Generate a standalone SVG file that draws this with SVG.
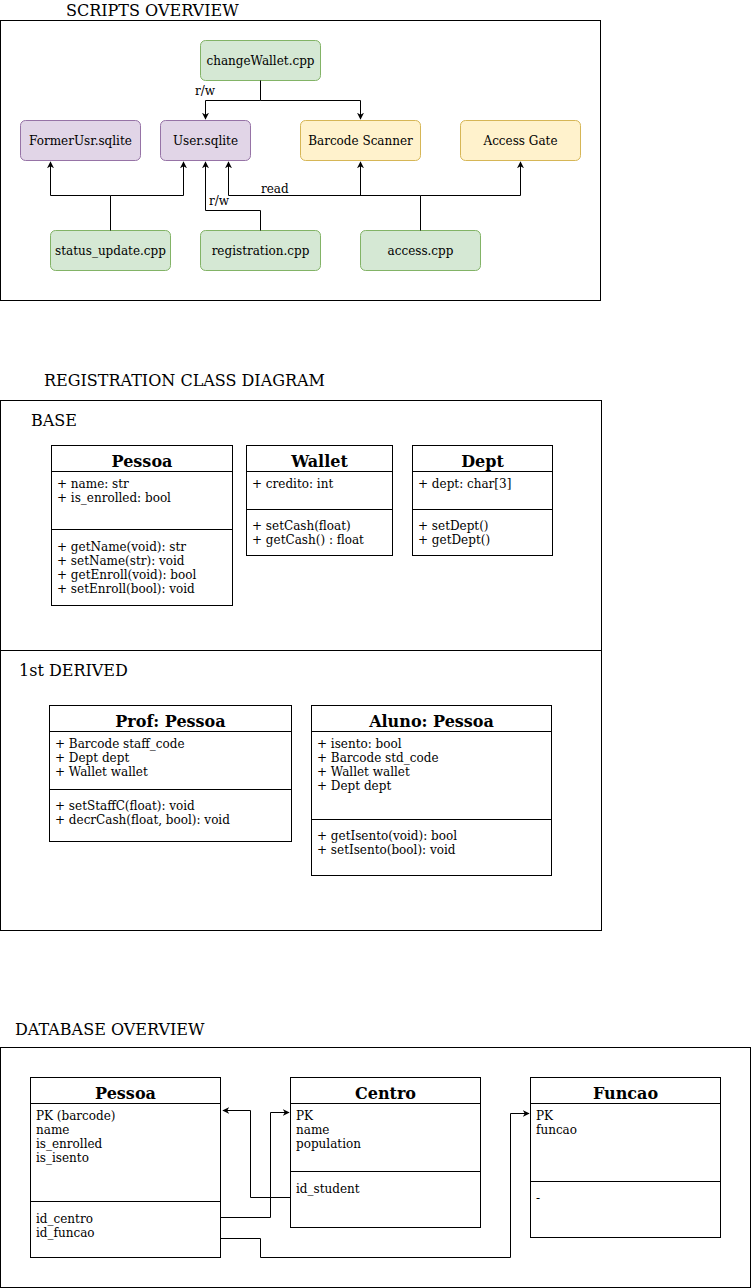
<svg xmlns="http://www.w3.org/2000/svg" width="751" height="1288" viewBox="0 0 751 1288">
<style>
text{font-family:"DejaVu Serif",serif;fill:#000}
.t{font-size:16px}
.n{font-size:12px;text-anchor:middle}
.a{font-size:12px}
.h{font-size:16px;font-weight:bold;text-anchor:middle}
.box{fill:none;stroke:#000;stroke-width:1}
.cls{fill:#fff;stroke:#000;stroke-width:1}
.g{fill:#d5e8d4;stroke:#82b366}
.p{fill:#e1d5e7;stroke:#9673a6}
.y{fill:#fff2cc;stroke:#d6b656}
.c{fill:none;stroke:#000;stroke-width:1}
</style>
<defs>
<marker id="ar" viewBox="0 0 10 10" refX="9" refY="5" markerWidth="7" markerHeight="7" markerUnits="userSpaceOnUse" orient="auto">
<path d="M0,0 L10,5 L0,10 L3,5 Z" fill="#000"/>
</marker>
</defs>
<rect fill="#fff" x="0" y="0" width="751" height="1288"/>

<!-- Scripts overview -->
<text class="t" x="66" y="16">SCRIPTS OVERVIEW</text>
<rect class="box" x="0.5" y="20.5" width="600" height="280"/>
<g id="changeWallet"><rect class="g" x="200.5" y="40.5" width="120" height="40" rx="5"/><text class="n" x="260.5" y="65">changeWallet.cpp</text></g>
<g id="formerUsr"><rect class="p" x="20.5" y="120.5" width="120" height="40" rx="5"/><text class="n" x="80.5" y="145">FormerUsr.sqlite</text></g>
<g id="userSqlite"><rect class="p" x="160.5" y="120.5" width="90" height="40" rx="5"/><text class="n" x="205.5" y="145">User.sqlite</text></g>
<g id="barcode"><rect class="y" x="300.5" y="120.5" width="120" height="40" rx="5"/><text class="n" x="360.5" y="145">Barcode Scanner</text></g>
<g id="accessGate"><rect class="y" x="460.5" y="120.5" width="120" height="40" rx="5"/><text class="n" x="520.5" y="145">Access Gate</text></g>
<g id="statusUpdate"><rect class="g" x="50.5" y="230.5" width="120" height="40" rx="5"/><text class="n" x="110.5" y="255">status_update.cpp</text></g>
<g id="registration"><rect class="g" x="200.5" y="230.5" width="120" height="40" rx="5"/><text class="n" x="260.5" y="255">registration.cpp</text></g>
<g id="access"><rect class="g" x="360.5" y="230.5" width="120" height="40" rx="5"/><text class="n" x="420.5" y="255">access.cpp</text></g>

<g id="connectors">
<path class="c" d="M260.5,80.5 V100.5 H205.5 V119" marker-end="url(#ar)"/>
<path class="c" d="M260.5,100.5 H360.5 V119" marker-end="url(#ar)"/>
<text class="a" x="195" y="95">r/w</text>
<path class="c" d="M110.5,230.5 V195.5 H50.5 V162" marker-end="url(#ar)"/>
<path class="c" d="M110.5,195.5 H183.5 V162" marker-end="url(#ar)"/>
<path class="c" d="M260.5,230.5 V210.5 H205.5 V162" marker-end="url(#ar)"/>
<text class="a" x="209" y="205">r/w</text>
<path class="c" d="M420.5,230.5 V195.5 H228.5 V162" marker-end="url(#ar)"/>
<path class="c" d="M360.5,195.5 V162" marker-end="url(#ar)"/>
<path class="c" d="M420.5,195.5 H520.5 V162" marker-end="url(#ar)"/>
<text class="a" x="261" y="193">read</text>

<path class="c" d="M290,1197.5 H250.5 V1110.5 H223" marker-end="url(#ar)"/>
<path class="c" d="M220.5,1217.5 H270.5 V1112.5 H289" marker-end="url(#ar)"/>
<path class="c" d="M220.5,1238.5 H260.5 V1257.5 H510.5 V1113.5 H529" marker-end="url(#ar)"/>
</g>

<!-- Registration class diagram -->
<text class="t" x="44" y="386">REGISTRATION CLASS DIAGRAM</text>
<rect class="box" x="0.5" y="400.5" width="601" height="250"/>
<rect class="box" x="0.5" y="650.5" width="601" height="280"/>
<text class="t" x="31" y="426">BASE</text>
<text class="t" x="19" y="676">1st DERIVED</text>

<g id="pessoa">
<rect class="cls" x="51.5" y="445.5" width="181" height="160"/>
<path class="c" d="M51.5,471.5 H232.5 M51.5,529.5 H232.5"/>
<text class="h" x="142" y="467">Pessoa</text>
<text class="a" x="57" y="488">+ name: str</text>
<text class="a" x="57" y="502">+ is_enrolled: bool</text>
<text class="a" x="57" y="551">+ getName(void): str</text>
<text class="a" x="57" y="565">+ setName(str): void</text>
<text class="a" x="57" y="579">+ getEnroll(void): bool</text>
<text class="a" x="57" y="593">+ setEnroll(bool): void</text>
</g>
<g id="wallet">
<rect class="cls" x="246.5" y="445.5" width="146" height="110"/>
<path class="c" d="M246.5,471.5 H392.5 M246.5,509.5 H392.5"/>
<text class="h" x="319.5" y="467">Wallet</text>
<text class="a" x="252" y="488">+ credito: int</text>
<text class="a" x="252" y="530">+ setCash(float)</text>
<text class="a" x="252" y="544">+ getCash() : float</text>
</g>
<g id="dept">
<rect class="cls" x="412.5" y="445.5" width="140" height="110"/>
<path class="c" d="M412.5,471.5 H552.5 M412.5,509.5 H552.5"/>
<text class="h" x="482.5" y="467">Dept</text>
<text class="a" x="418" y="488">+ dept: char[3]</text>
<text class="a" x="418" y="530">+ setDept()</text>
<text class="a" x="418" y="544">+ getDept()</text>
</g>
<g id="prof">
<rect class="cls" x="49.5" y="705.5" width="242" height="136"/>
<path class="c" d="M49.5,731.5 H291.5 M49.5,789.5 H291.5"/>
<text class="h" x="170.5" y="727">Prof: Pessoa</text>
<text class="a" x="55" y="748">+ Barcode staff_code</text>
<text class="a" x="55" y="762">+ Dept dept</text>
<text class="a" x="55" y="776">+ Wallet wallet</text>
<text class="a" x="55" y="810">+ setStaffC(float): void</text>
<text class="a" x="55" y="824">+ decrCash(float, bool): void</text>
</g>
<g id="aluno">
<rect class="cls" x="311.5" y="705.5" width="240" height="170"/>
<path class="c" d="M311.5,731.5 H551.5 M311.5,819.5 H551.5"/>
<text class="h" x="431.5" y="727">Aluno: Pessoa</text>
<text class="a" x="317" y="748">+ isento: bool</text>
<text class="a" x="317" y="762">+ Barcode std_code</text>
<text class="a" x="317" y="776">+ Wallet wallet</text>
<text class="a" x="317" y="790">+ Dept dept</text>
<text class="a" x="317" y="840">+ getIsento(void): bool</text>
<text class="a" x="317" y="854">+ setIsento(bool): void</text>
</g>

<!-- Database overview -->
<text class="t" x="15" y="1035">DATABASE OVERVIEW</text>
<rect class="box" x="0.5" y="1047.5" width="750" height="240"/>
<g id="dbPessoa">
<rect class="cls" x="30.5" y="1077.5" width="190" height="180"/>
<path class="c" d="M30.5,1103.5 H220.5 M30.5,1201.5 H220.5"/>
<text class="h" x="125.5" y="1099">Pessoa</text>
<text class="a" x="36" y="1120">PK (barcode)</text>
<text class="a" x="36" y="1134">name</text>
<text class="a" x="36" y="1148">is_enrolled</text>
<text class="a" x="36" y="1162">is_isento</text>
<text class="a" x="36" y="1223">id_centro</text>
<text class="a" x="36" y="1237">id_funcao</text>
</g>
<g id="dbCentro">
<rect class="cls" x="290.5" y="1077.5" width="190" height="150"/>
<path class="c" d="M290.5,1103.5 H480.5 M290.5,1171.5 H480.5"/>
<text class="h" x="385.5" y="1099">Centro</text>
<text class="a" x="296" y="1120">PK</text>
<text class="a" x="296" y="1134">name</text>
<text class="a" x="296" y="1148">population</text>
<text class="a" x="296" y="1193">id_student</text>
</g>
<g id="dbFuncao">
<rect class="cls" x="530.5" y="1077.5" width="190" height="160"/>
<path class="c" d="M530.5,1103.5 H720.5 M530.5,1181.5 H720.5"/>
<text class="h" x="625.5" y="1099">Funcao</text>
<text class="a" x="536" y="1120">PK</text>
<text class="a" x="536" y="1134">funcao</text>
<text class="a" x="536" y="1202">-</text>
</g>
</svg>
